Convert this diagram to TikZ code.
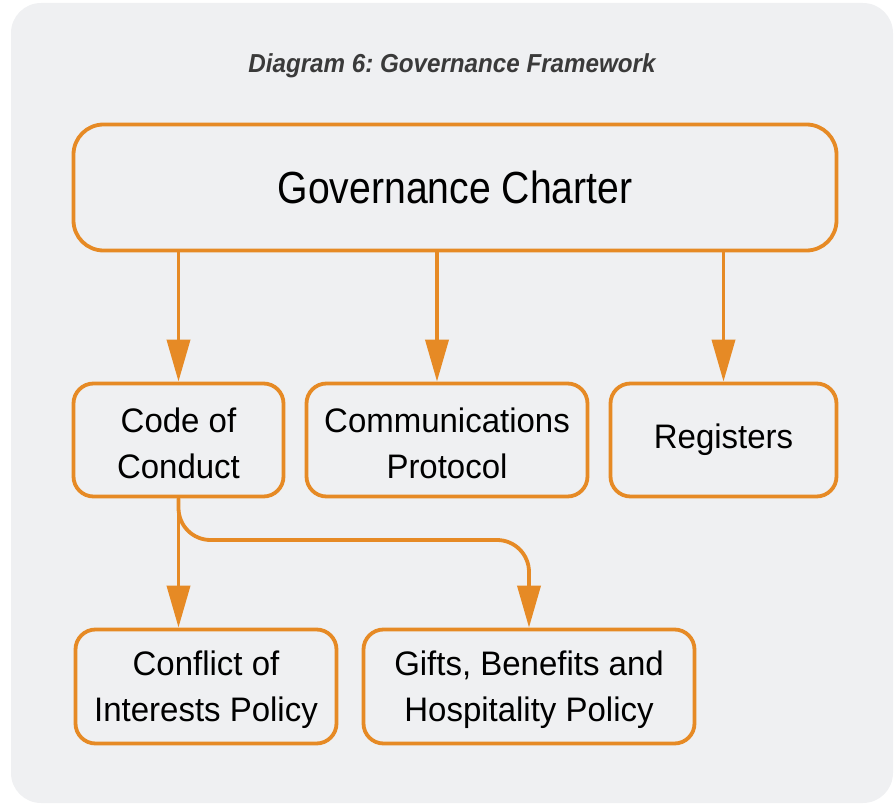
\documentclass[tikz,border=0pt]{standalone}
\usepackage{fontspec}
\setmainfont{Liberation Sans}
\newfontfamily\boxfont[FakeStretch=0.97]{Liberation Sans}
\newfontfamily\chartfont[FakeStretch=0.87]{Liberation Sans}
\newfontfamily\titlefont[FakeStretch=0.93]{Liberation Sans}
\usetikzlibrary{arrows.meta}
\definecolor{bg}{HTML}{EFF0F2}
\definecolor{orng}{HTML}{E68A25}
\definecolor{ttl}{HTML}{3A3A3A}
\newcommand{\topstrut}{\rule{0pt}{31pt}}
\tikzset{
  pbox/.style={draw=orng, line width=3.8pt, fill=bg, rounded corners=20pt, align=center,
    inner sep=0pt, font={\boxfont\fontsize{34}{46}\selectfont}, text=black},
  conn/.style={draw=orng, line width=3.8pt, -{Triangle[width=23pt,length=42pt]}}
}
\begin{document}
\frenchspacing
\begin{tikzpicture}[x=1pt,y=-1pt]
\useasboundingbox (0,0) rectangle (895,805);
\fill[bg, rounded corners=30pt] (11,3) rectangle (893,803);
\node[anchor=base, text=ttl, font={\frenchspacing\titlefont\itshape\bfseries\fontsize{26}{30}\selectfont}] (title) at (452,73) {Diagram 6: Governance Framework};
\node[pbox, rounded corners=30pt, minimum width=763pt, minimum height=126pt, font={\chartfont\fontsize{45}{50}\selectfont}] (charter) at (455,187.5) {Governance Charter};
\node[pbox, minimum width=210pt, minimum height=113pt] (code) at (178.5,440) {\topstrut Code of\\Conduct};
\node[pbox, minimum width=281pt, minimum height=113pt] (comm) at (447,440) {\topstrut Communications\\Protocol};
\node[pbox, minimum width=226pt, minimum height=113pt] (reg) at (723.5,440) {Registers};
\node[pbox, minimum width=261pt, minimum height=114pt] (coi) at (206,686.5) {\topstrut Conflict of\\Interests Policy};
\node[pbox, minimum width=331pt, minimum height=114pt] (gifts) at (529,686.5) {\topstrut Gifts, Benefits and\\Hospitality Policy};
\coordinate (bend) at (gifts.north |- 0,540);
\draw[conn] (code.north |- charter.south) -- (code.north);
\draw[conn] ([xshift=-10pt]comm.north |- charter.south) -- ([xshift=-10pt]comm.north);
\draw[conn] (reg.north |- charter.south) -- (reg.north);
\draw[conn] (code.south) -- (code.south |- coi.north);
\draw[conn, rounded corners=32pt] (code.south) |- (bend) -- (gifts.north);
\end{tikzpicture}
\end{document}
